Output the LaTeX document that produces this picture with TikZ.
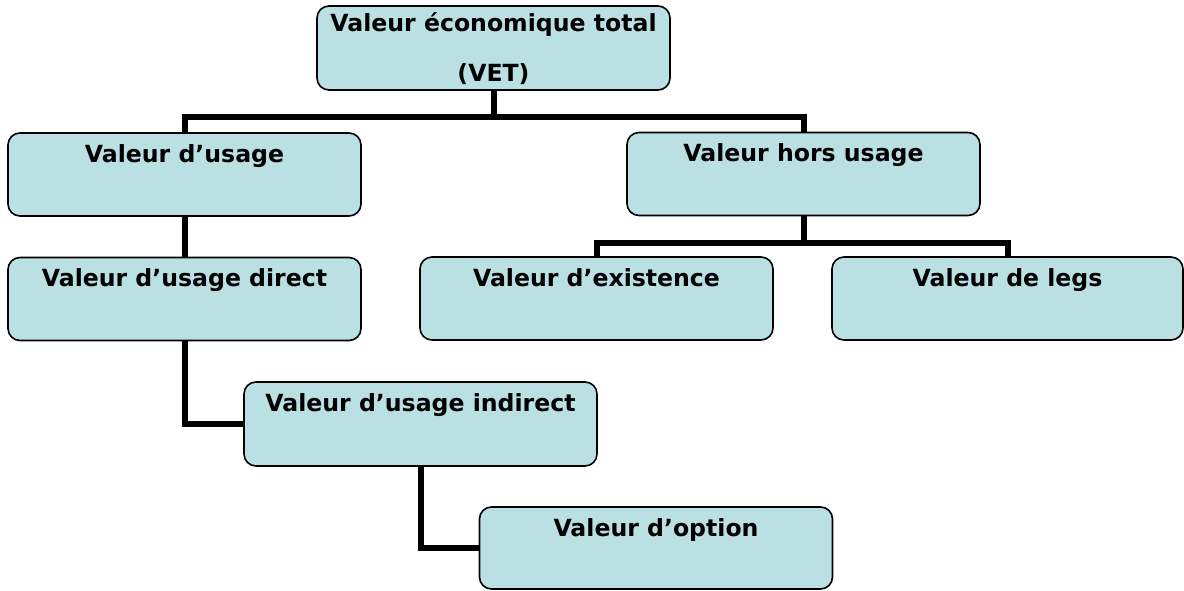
\documentclass[tikz,border=0pt]{standalone}
\usepackage{fontspec}
\setmainfont{DejaVu Sans}
\definecolor{boxfill}{RGB}{187,224,227}
\begin{document}
\begin{tikzpicture}[x=1pt,y=1pt,
  box/.style={draw=black, line width=1.6pt, fill=boxfill, rounded corners=12pt,
    minimum width=353pt, minimum height=83pt, inner sep=0pt, outer sep=0pt},
  lbl/.style={font=\bfseries\fontsize{23.6}{50}\selectfont, inner sep=0pt, anchor=base},
  conn/.style={draw=black, line width=6pt, line cap=butt}]
\useasboundingbox (0,0) rectangle (1184,-590);
% boxes
\node[box, minimum height=84pt] (top) at (493.5,-48) {};
\node[box] (usage) at (184.5,-174.5) {};
\node[box] (hors) at (803.5,-174) {};
\node[box] (direct) at (184.5,-299) {};
\node[box] (exist) at (596.5,-298.5) {};
\node[box, minimum width=351pt] (legs) at (1007.5,-298.5) {};
\node[box, minimum height=84pt] (indirect) at (420.5,-424) {};
\node[box, minimum height=82pt] (option) at (656,-548) {};
% labels
\node[lbl] (ttop1) at ([yshift=-25pt]top.north) {Valeur économique total};
\node[lbl] (ttop2) at ([yshift=-75pt]top.north) {(VET)};
\node[lbl] (tusage) at ([yshift=-29pt]usage.north) {Valeur d’usage};
\node[lbl] (thors) at ([yshift=-29pt]hors.north) {Valeur hors usage};
\node[lbl] (tdirect) at ([yshift=-29pt]direct.north) {Valeur d’usage direct};
\node[lbl] (texist) at ([yshift=-29pt]exist.north) {Valeur d’existence};
\node[lbl] (tlegs) at ([yshift=-29pt]legs.north) {Valeur de legs};
\node[lbl] (tindirect) at ([yshift=-29pt]indirect.north) {Valeur d’usage indirect};
\node[lbl] (toption) at ([yshift=-29pt]option.north) {Valeur d’option};
% connectors
\draw[conn] (top.south) -- ++(0,-29.5);
\draw[conn] (usage.north) -- ++(0,16.5) -| (hors.north);
\draw[conn] (usage.south) -- (direct.north);
\draw[conn] (hors.south) -- ++(0,-30);
\draw[conn] (exist.north) -- ++(0,14.5) -| (legs.north);
\draw[conn] (direct.south) |- (indirect.west);
\draw[conn] (indirect.south) |- (option.west);
\end{tikzpicture}
\end{document}
